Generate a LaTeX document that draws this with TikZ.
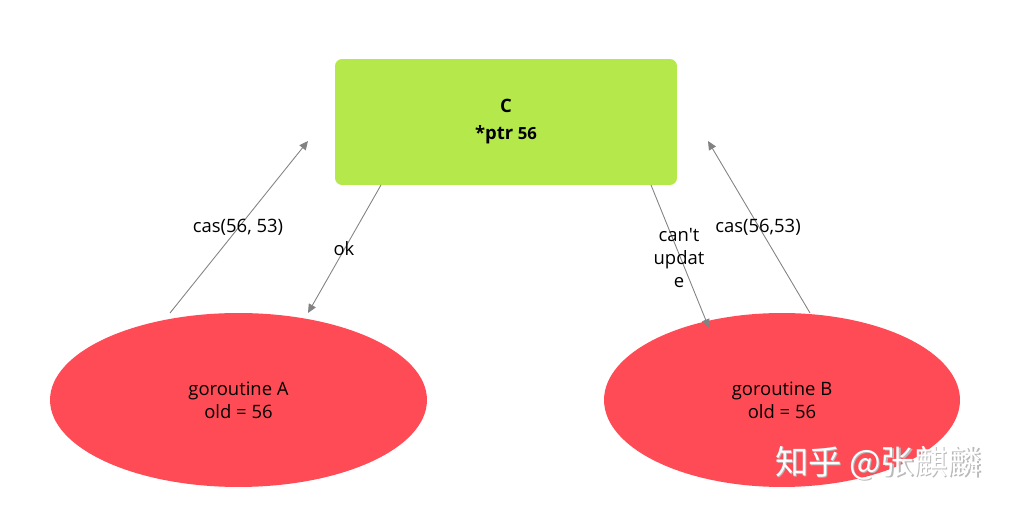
\documentclass[tikz,border=0pt]{standalone}
\usepackage{fontspec}
\setmainfont{Open Sans}[Ligatures=TeXOff]
\newfontfamily\cjkfont{Noto Sans CJK SC}
\usetikzlibrary{shapes.geometric, arrows.meta}
\definecolor{boxgreen}{RGB}{181,232,74}
\definecolor{ovalred}{RGB}{255,75,85}
\definecolor{linegray}{RGB}{130,130,130}
\tikzset{
  cbox/.style   = {rectangle, rounded corners=4pt, fill=boxgreen, draw=none,
                   minimum width=6.84cm, minimum height=2.52cm,
                   font=\bfseries\fontsize{10.5}{15.4}\selectfont, align=center},
  gor/.style    = {ellipse, fill=ovalred, draw=none, inner sep=0pt,
                   font=\fontsize{10.5}{13}\selectfont, align=center},
  casarr/.style = {linegray, line width=0.5pt, -{Triangle[length=5pt, width=4.5pt]}},
  elab/.style   = {font=\fontsize{10.5}{13}\selectfont, align=center, inner sep=1pt},
  wmark/.style  = {font=\cjkfont\fontsize{19}{19}\selectfont},
}
\begin{document}
\begin{tikzpicture}[x=0.02cm, y=-0.02cm]
\useasboundingbox (0,0) rectangle (1012,506);
\node[cbox] (c) at (506,122) {C\\*ptr {\fontsize{9.5}{15.4}\selectfont 56}};
\node[gor, minimum width=7.54cm, minimum height=3.48cm] (ga) at (238.5,400) {goroutine A\\old = 56};
\node[gor, minimum width=7.12cm, minimum height=3.48cm] (gb) at (782,400) {goroutine B\\old = 56};
% free ends of the arrows
\coordinate (aout) at (170,313);
\coordinate (aup)  at (308,141);
\coordinate (cdl)  at (381,185);
\coordinate (ain)  at (308,313);
\coordinate (cdr)  at (651,185);
\coordinate (bin)  at (709,328);
\coordinate (bout) at (810,313);
\coordinate (bup)  at (708,141);
\draw[casarr] (aout) -- (aup);
\draw[casarr] (cdl) -- (ain);
\draw[casarr] (cdr) -- (bin);
\draw[casarr] (bout) -- (bup);
\node[elab] (lcasa) at (238,227) {cas(56, 53)};
\node[elab] (lok)   at (344,249) {ok};
\node[elab] (lcant) at (679,258) {can't\\updat\\e};
\node[elab] (lcasb) at (758,227) {cas(56,53)};
\node[wmark, text=gray!55] at (879.5,464.5) {知乎 @张麒麟};
\node[wmark, text=white] (wm) at (878,463) {知乎 @张麒麟};
\end{tikzpicture}
\end{document}
